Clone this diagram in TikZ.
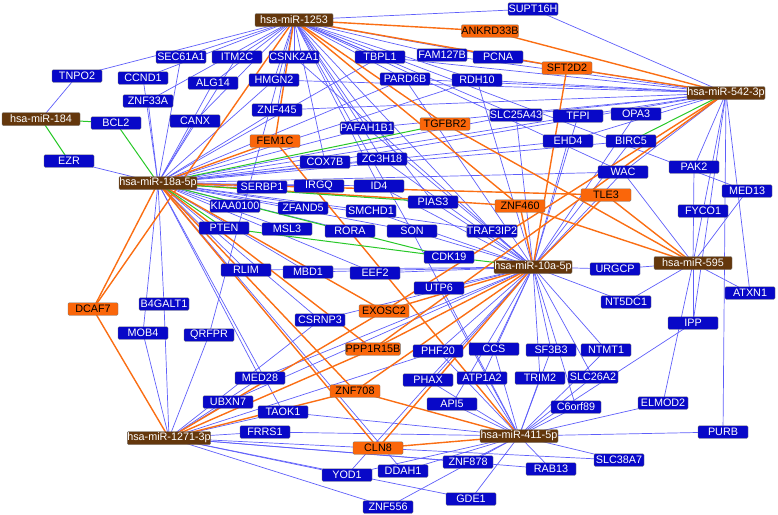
\documentclass[tikz,border=0pt]{standalone}
\usepackage{fontspec}
\setmainfont{Liberation Sans}
\definecolor{gblue}{RGB}{8,8,200}
\definecolor{gorange}{RGB}{250,102,10}
\definecolor{gbrown}{RGB}{100,55,12}
\definecolor{eblue}{RGB}{95,95,250}
\definecolor{eorange}{RGB}{250,110,20}
\definecolor{egreen}{RGB}{40,200,40}
\pgfdeclarelayer{edges}
\pgfsetlayers{edges,main}
\begin{document}
\begin{tikzpicture}[x=1pt,y=-1pt,
 box/.style={draw=black!55, line width=0.4pt, rounded corners=1.2pt, minimum height=12.5pt, inner sep=0pt, font=\fontsize{10.8}{12}\selectfont},
 gene/.style={box, fill=gblue, text=white, minimum width=50pt},
 hub/.style={box, fill=gorange, text=black, minimum width=50pt},
 mir/.style={box, fill=gbrown, text=white, minimum width=78pt, minimum height=13pt},
 be/.style={draw=eblue, line width=0.7pt},
 oe/.style={draw=eorange, line width=1.4pt},
 ge/.style={draw=egreen, line width=1pt}]
\useasboundingbox (0,0) rectangle (778,514);
% miRNAs
\node[mir] (m1253) at (294,20) {hsa-miR-1253};
\node[mir] (m542) at (726,93) {hsa-miR-542-3p};
\node[mir] (m184) at (41,119) {hsa-miR-184};
\node[mir] (m18a) at (158,183) {hsa-miR-18a-5p};
\node[mir] (m10a) at (533,267) {hsa-miR-10a-5p};
\node[mir] (m595) at (693,263) {hsa-miR-595};
\node[mir] (m1271) at (169,438) {hsa-miR-1271-3p};
\node[mir] (m411) at (519,436) {hsa-miR-411-5p};
% orange genes
\node[hub] (ANKRD33B) at (490,31) {ANKRD33B};
\node[hub] (SFT2D2) at (567,68) {SFT2D2};
\node[hub] (FEM1C) at (275,141) {FEM1C};
\node[hub] (TGFBR2) at (445,124) {TGFBR2};
\node[hub] (ZNF460) at (520,206) {ZNF460};
\node[hub] (TLE3) at (606,195) {TLE3};
\node[hub] (DCAF7) at (93,309) {DCAF7};
\node[hub] (EXOSC2) at (384,311) {EXOSC2};
\node[hub] (PPP1R15B) at (373,349) {PPP1R15B};
\node[hub] (ZNF708) at (355,391) {ZNF708};
\node[hub] (CLN8) at (378,448) {CLN8};
% blue genes
\node[gene] (SUPT16H) at (533,9) {SUPT16H};
\node[gene] (TNPO2) at (77,76) {TNPO2};
\node[gene] (SEC61A1) at (181,57) {SEC61A1};
\node[gene] (ITM2C) at (237,57) {ITM2C};
\node[gene] (CSNK2A1) at (294,57) {CSNK2A1};
\node[gene] (TBPL1) at (380,57) {TBPL1};
\node[gene] (FAM127B) at (442,55) {FAM127B};
\node[gene] (PCNA) at (498,57) {PCNA};
\node[gene] (CCND1) at (143,78) {CCND1};
\node[gene] (ALG14) at (213,83) {ALG14};
\node[gene] (HMGN2) at (274,80) {HMGN2};
\node[gene] (PARD6B) at (405,79) {PARD6B};
\node[gene] (RDH10) at (477,80) {RDH10};
\node[gene] (ZNF33A) at (148,101) {ZNF33A};
\node[gene] (BCL2) at (116,123) {BCL2};
\node[gene] (CANX) at (195,121) {CANX};
\node[gene] (ZNF445) at (277,110) {ZNF445};
\node[gene] (PAFAH1B1) at (367,128) {PAFAH1B1};
\node[gene] (SLC25A43) at (516,115) {SLC25A43};
\node[gene] (TFPI) at (578,116) {TFPI};
\node[gene] (OPA3) at (636,114) {OPA3};
\node[gene] (EHD4) at (568,141) {EHD4};
\node[gene] (BIRC5) at (631,141) {BIRC5};
\node[gene] (EZR) at (69,161) {EZR};
\node[gene] (COX7B) at (325,162) {COX7B};
\node[gene] (ZC3H18) at (382,159) {ZC3H18};
\node[gene] (PAK2) at (694,167) {PAK2};
\node[gene] (WAC) at (623,172) {WAC};
\node[gene] (SERBP1) at (262,187) {SERBP1};
\node[gene] (IRGQ) at (319,186) {IRGQ};
\node[gene] (ID4) at (379,186) {ID4};
\node[gene] (MED13) at (747,191) {MED13};
\node[gene] (KIAA0100) at (235,206) {KIAA0100};
\node[gene] (ZFAND5) at (303,208) {ZFAND5};
\node[gene] (SMCHD1) at (371,211) {SMCHD1};
\node[gene] (PIAS3) at (433,202) {PIAS3};
\node[gene] (FYCO1) at (703,211) {FYCO1};
\node[gene] (PTEN) at (224,228) {PTEN};
\node[gene] (MSL3) at (287,229) {MSL3};
\node[gene] (RORA) at (350,231) {RORA};
\node[gene] (SON) at (412,231) {SON};
\node[gene] (TRAF3IP2) at (492,231) {TRAF3IP2};
\node[gene] (CDK19) at (449,257) {CDK19};
\node[gene] (RLIM) at (246,270) {RLIM};
\node[gene] (MBD1) at (308,272) {MBD1};
\node[gene] (EEF2) at (375,273) {EEF2};
\node[gene] (URGCP) at (615,269) {URGCP};
\node[gene] (UTP6) at (439,288) {UTP6};
\node[gene] (ATXN1) at (750,293) {ATXN1};
\node[gene] (NT5DC1) at (626,302) {NT5DC1};
\node[gene] (B4GALT1) at (164,304) {B4GALT1};
\node[gene] (CSRNP3) at (320,320) {CSRNP3};
\node[gene] (MOB4) at (143,333) {MOB4};
\node[gene] (QRFPR) at (209,335) {QRFPR};
\node[gene] (IPP) at (693,323) {IPP};
\node[gene] (PHF20) at (438,351) {PHF20};
\node[gene] (CCS) at (494,349) {CCS};
\node[gene] (SF3B3) at (551,350) {SF3B3};
\node[gene] (NTMT1) at (606,350) {NTMT1};
\node[gene] (MED28) at (260,378) {MED28};
\node[gene] (PHAX) at (428,380) {PHAX};
\node[gene] (ATP1A2) at (482,378) {ATP1A2};
\node[gene] (TRIM2) at (540,378) {TRIM2};
\node[gene] (SLC26A2) at (593,377) {SLC26A2};
\node[gene] (UBXN7) at (228,402) {UBXN7};
\node[gene] (API5) at (452,404) {API5};
\node[gene] (C6orf89) at (576,407) {C6orf89};
\node[gene] (ELMOD2) at (663,403) {ELMOD2};
\node[gene] (TAOK1) at (283,412) {TAOK1};
\node[gene] (FRRS1) at (265,432) {FRRS1};
\node[gene] (PURB) at (723,432) {PURB};
\node[gene] (ZNF878) at (468,462) {ZNF878};
\node[gene] (SLC38A7) at (619,460) {SLC38A7};
\node[gene] (YOD1) at (347,475) {YOD1};
\node[gene] (DDAH1) at (403,471) {DDAH1};
\node[gene] (RAB13) at (551,469) {RAB13};
\node[gene] (GDE1) at (471,499) {GDE1};
\node[gene] (ZNF556) at (388,507) {ZNF556};
\begin{pgfonlayer}{edges}
% blue edges
\foreach \t in {SUPT16H,TNPO2,SEC61A1,ITM2C,CCND1,ZNF33A,CANX,ALG14,CSNK2A1,HMGN2,ZNF445,TBPL1,FAM127B,PCNA,PARD6B,RDH10,PAFAH1B1,ZC3H18,COX7B,SLC25A43,QRFPR,MED13,WAC,PIAS3,TRAF3IP2,SON,ID4}
  \draw[be] (m1253.center) -- (\t.center);
\draw[be] (m184.center) -- (TNPO2.center);
\foreach \t in {SEC61A1,ITM2C,CCND1,ZNF33A,CANX,ALG14,EZR,HMGN2,ZNF445,PAFAH1B1,COX7B,ZC3H18,SERBP1,IRGQ,ID4,KIAA0100,ZFAND5,SMCHD1,MSL3,RORA,SON,TRAF3IP2,RLIM,MBD1,EEF2,CSRNP3,B4GALT1,MOB4,MED28,TAOK1,WAC,PARD6B,RDH10,SLC25A43,TFPI,EHD4,BIRC5,TBPL1,DDAH1}
  \draw[be] (m18a.center) -- (\t.center);
\foreach \t in {SUPT16H,PCNA,FAM127B,TBPL1,RDH10,PARD6B,SLC25A43,TFPI,OPA3,EHD4,WAC,PAK2,FYCO1,ATXN1,PURB,IPP,HMGN2,ZNF445,PAFAH1B1,COX7B}
  \draw[be] (m542.center) -- (\t.center);
\foreach \t in {SLC25A43,TFPI,EHD4,BIRC5,OPA3,WAC,TRAF3IP2,PIAS3,SON,SMCHD1,ZC3H18,PAFAH1B1,CSNK2A1,EEF2,MBD1,RLIM,UTP6,CSRNP3,MED28,UBXN7,PHF20,PHAX,CCS,ATP1A2,SF3B3,NTMT1,TRIM2,SLC26A2,C6orf89,URGCP,NT5DC1,API5,ID4,YOD1,RDH10,PARD6B}
  \draw[be] (m10a.center) -- (\t.center);
\foreach \t in {URGCP,NT5DC1,ATXN1,FYCO1,MED13,WAC,IPP,ELMOD2,PAK2}
  \draw[be] (m595.center) -- (\t.center);
\foreach \t in {B4GALT1,MOB4,QRFPR,UBXN7,MED28,TAOK1,FRRS1,YOD1,GDE1,ZNF556,ZNF878,SLC38A7,RAB13,PHF20,CSRNP3}
  \draw[be] (m1271.center) -- (\t.center);
\foreach \t in {TAOK1,FRRS1,API5,PHAX,PHF20,CCS,ATP1A2,SF3B3,TRIM2,NTMT1,SLC26A2,C6orf89,ELMOD2,IPP,PURB,SLC38A7,RAB13,GDE1,ZNF878,ZNF556,DDAH1,YOD1,SON,UTP6}
  \draw[be] (m411.center) -- (\t.center);
% orange edges
\foreach \t in {ANKRD33B,SFT2D2,TGFBR2,ZNF460,FEM1C,DCAF7}
  \draw[oe] (m1253.center) -- (\t.center);
\foreach \t in {FEM1C,DCAF7,ZNF460,TLE3,EXOSC2,PPP1R15B,ZNF708,CLN8}
  \draw[oe] (m18a.center) -- (\t.center);
\foreach \t in {ANKRD33B,SFT2D2,EXOSC2,PPP1R15B}
  \draw[oe] (m542.center) -- (\t.center);
\foreach \t in {SFT2D2,ZNF460,TLE3,EXOSC2,PPP1R15B,ZNF708,CLN8}
  \draw[oe] (m10a.center) -- (\t.center);
\foreach \t in {TGFBR2,ZNF460,TLE3}
  \draw[oe] (m595.center) -- (\t.center);
\foreach \t in {DCAF7,EXOSC2,PPP1R15B,ZNF708}
  \draw[oe] (m1271.center) -- (\t.center);
\foreach \t in {FEM1C,ZNF708,CLN8}
  \draw[oe] (m411.center) -- (\t.center);
% green edges
\draw[ge] (m184.center) -- (BCL2.center);
\draw[ge] (m184.center) -- (EZR.center);
\foreach \t in {BCL2,TGFBR2,PIAS3,CDK19,PTEN}
  \draw[ge] (m18a.center) -- (\t.center);
\draw[ge] (PTEN.center) -- (CDK19.center);
\draw[ge] (m10a.center) -- (CDK19.center);
\draw[ge] (m542.center) -- (BIRC5.center);
\end{pgfonlayer}
\end{tikzpicture}
\end{document}
